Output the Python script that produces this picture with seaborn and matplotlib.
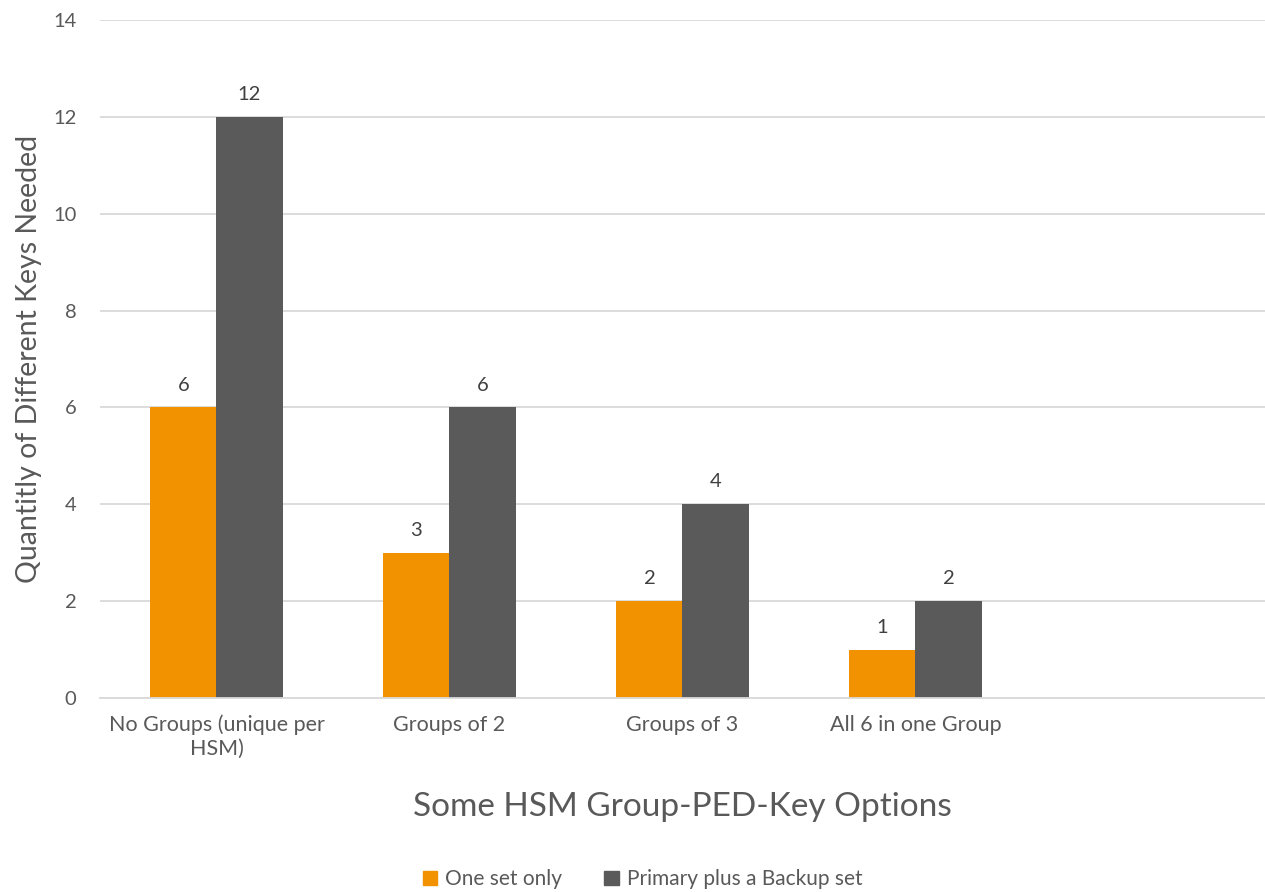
import pandas as pd
import matplotlib.pyplot as plt
import seaborn as sns

# values
categories = ["No Groups (unique per\nHSM)", "Groups of 2", "Groups of 3", "All 6 in one Group"]
one_set = [6, 3, 2, 1]
with_backup = [12, 6, 4, 2]
series_names = ["One set only", "Primary plus a Backup set"]
colors = ["#F39200", "#5A5A5A"]
yticks = [0, 2, 4, 6, 8, 10, 12, 14]

df = pd.DataFrame({
    "option": categories * 2,
    "keys": one_set + with_backup,
    "series": [series_names[0]] * 4 + [series_names[1]] * 4,
})

sns.set_theme(style="white")
plt.rcParams["font.family"] = ["Lato", "DejaVu Sans"]
text_col = "#595959"
grid_col = "#D9D9D9"

fig = plt.figure(figsize=(12.65, 8.92), dpi=100)
ax = fig.add_axes([0.079, 0.2175, 0.921, 0.7601])

# an empty fifth slot keeps the free space on the right like the original
order = categories + [" "]
sns.barplot(data=df, x="option", y="keys", hue="series", order=order,
            hue_order=series_names, palette=colors, width=0.567,
            saturation=1, linewidth=0, ax=ax, legend=False)

for cont in ax.containers:
    ax.bar_label(cont, fmt="%d", padding=10, fontsize=14.5, color="#404040")

ax.set_xlim(-0.5, 4.5)
ax.set_ylim(0, 14)
ax.set_yticks(yticks)
ax.set_xticks(range(4))
ax.set_xticklabels(categories)
ax.tick_params(axis="both", length=0, labelsize=15.5, colors=text_col)
ax.tick_params(axis="y", labelsize=14.5, pad=17)
ax.tick_params(axis="x", pad=12)
ax.yaxis.grid(True, color=grid_col, linewidth=1.3)
ax.set_axisbelow(True)
for side in ["top", "right", "left"]:
    ax.spines[side].set_visible(False)
ax.spines["bottom"].set_color(grid_col)
ax.spines["bottom"].set_linewidth(1.3)

ax.set_xlabel("Some HSM Group-PED-Key Options", fontsize=24, color=text_col, labelpad=24)
ax.set_ylabel("Quantitly of Different Keys Needed", fontsize=20.5, color=text_col, labelpad=8)

handles = [plt.Rectangle((0, 0), 1, 1, color=c) for c in colors]
fig.legend(handles, series_names, loc="lower center", ncol=2, frameon=False,
           fontsize=15, labelcolor=text_col, handlelength=0.7, handleheight=0.7,
           handletextpad=0.4, columnspacing=2.0, bbox_to_anchor=(0.508, -0.018))

fig.savefig("out.png", dpi=100)
